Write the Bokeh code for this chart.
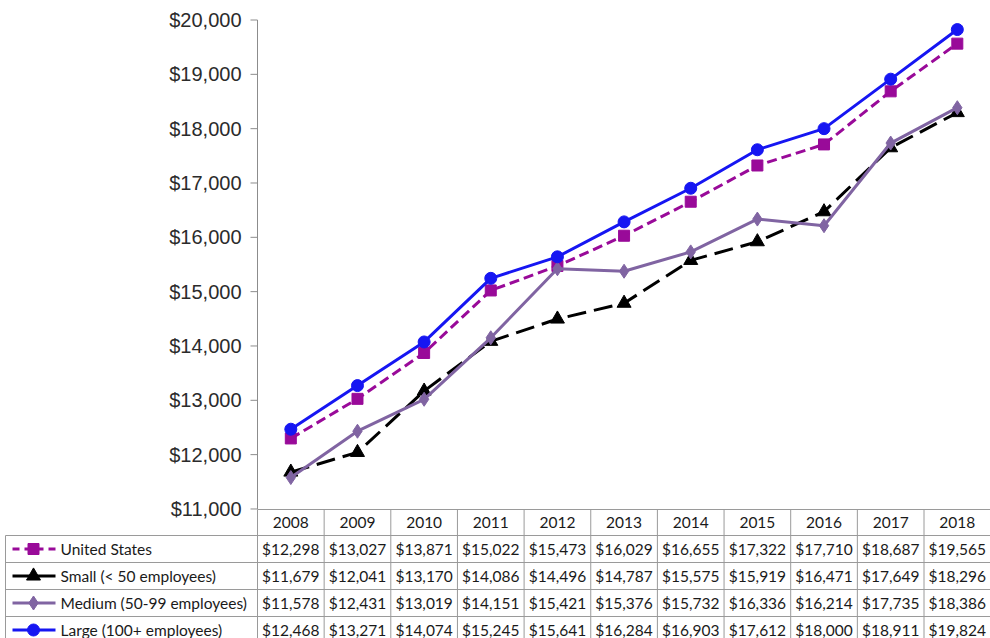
from bokeh.plotting import figure
from bokeh.models import Range1d, ColumnDataSource
from bokeh.core.properties import value
from bokeh.embed import file_html
from bokeh.resources import INLINE

# ---------------- data ----------------
years = [2008, 2009, 2010, 2011, 2012, 2013, 2014, 2015, 2016, 2017, 2018]
united_states = [12298, 13027, 13871, 15022, 15473, 16029, 16655, 17322, 17710, 18687, 19565]
small = [11679, 12041, 13170, 14086, 14496, 14787, 15575, 15919, 16471, 17649, 18296]
medium = [11578, 12431, 13019, 14151, 15421, 15376, 15732, 16336, 16214, 17735, 18386]
large = [12468, 13271, 14074, 15245, 15641, 16284, 16903, 17612, 18000, 18911, 19824]
series_names = ["United States", "Small (< 50 employees)", "Medium (50-99 employees)", "Large (100+ employees)"]
y_ticks = [11000, 12000, 13000, 14000, 15000, 16000, 17000, 18000, 19000, 20000]
y_tick_labels = ["$11,000", "$12,000", "$13,000", "$14,000", "$15,000", "$16,000",
                 "$17,000", "$18,000", "$19,000", "$20,000"]

# ---------------- layout constants (pixels) ----------------
W, H = 990, 638
AX_X = 257.0          # y-axis line / first table column edge
COL_W = 66.65         # width of a year column
Y_TOP_PX = 19.5       # pixel of top tick
PX_PER_K = 54.33      # pixels per $1,000
HEADER_TOP = 509.0
ROW_LINES = [535.0, 562.0, 589.0, 616.0]
ROW_H = 27.0
TABLE_LEFT = 5.0

first_center = AX_X + COL_W / 2
x0 = years[0] - first_center / COL_W
x1 = years[0] + (W - first_center) / COL_W
top_val = y_ticks[-1]
y_end = top_val + Y_TOP_PX / PX_PER_K * 1000
y_start = top_val - (H - Y_TOP_PX) / PX_PER_K * 1000

p = figure(width=W, height=H, output_backend="svg", toolbar_location=None,
           x_range=Range1d(x0, x1), y_range=Range1d(y_start, y_end),
           x_axis_type=None, y_axis_type=None, min_border=0,
           outline_line_color=None)
p.xgrid.visible = False
p.ygrid.visible = False
p.extra_x_ranges = {"px": Range1d(0, W)}
p.extra_y_ranges = {"tbl": Range1d(H, 0)}

GRID_C = "#9a9a9a"
AXIS_C = "#8c8c8c"
US_C = "#990a99"
SMALL_C = "#000000"
MED_C = "#8064a2"
LARGE_C = "#1616f2"

# ---------------- y axis ----------------
p.segment(x0=[AX_X], y0=[y_ticks[0]], x1=[AX_X], y1=[y_ticks[-1]],
          x_range_name="px", line_color=AXIS_C, line_width=1)
p.segment(x0=[AX_X - 7] * len(y_ticks), y0=y_ticks, x1=[AX_X] * len(y_ticks), y1=y_ticks,
          x_range_name="px", line_color=AXIS_C, line_width=1)
p.text(x=[AX_X - 16] * len(y_ticks), y=y_ticks, text=y_tick_labels, x_range_name="px",
       text_align="right", text_baseline="middle", text_font=value("Liberation Sans"),
       text_font_size="20px", text_color="#2b2b2b")

# ---------------- table grid ----------------
col_edges = [AX_X + COL_W * k for k in range(len(years) + 1)]
# horizontal lines
p.segment(x0=[AX_X], y0=[HEADER_TOP], x1=[W], y1=[HEADER_TOP],
          x_range_name="px", y_range_name="tbl", line_color=GRID_C, line_width=1)
p.segment(x0=[TABLE_LEFT] * len(ROW_LINES), y0=ROW_LINES, x1=[W] * len(ROW_LINES), y1=ROW_LINES,
          x_range_name="px", y_range_name="tbl", line_color=GRID_C, line_width=1)
# vertical lines
p.segment(x0=col_edges[:-1], y0=[HEADER_TOP] * (len(col_edges) - 1),
          x1=col_edges[:-1], y1=[H + 5] * (len(col_edges) - 1),
          x_range_name="px", y_range_name="tbl", line_color=GRID_C, line_width=1)
p.segment(x0=[TABLE_LEFT], y0=[ROW_LINES[0]], x1=[TABLE_LEFT], y1=[H + 5],
          x_range_name="px", y_range_name="tbl", line_color=GRID_C, line_width=1)

TABLE_FONT = value("Lato")
TABLE_SIZE = "15.5px"
# header years
p.text(x=years, y=[(HEADER_TOP + ROW_LINES[0]) / 2] * len(years), text=[str(y) for y in years],
       y_range_name="tbl", text_align="center", text_baseline="middle",
       text_font=TABLE_FONT, text_font_size=TABLE_SIZE, text_color="#1a1a1a")

all_series = [united_states, small, medium, large]
row_centers = [r + ROW_H / 2 for r in ROW_LINES]
tx, ty, tt = [], [], []
for vals, rc in zip(all_series, row_centers):
    for yr, v in zip(years, vals):
        tx.append(yr)
        ty.append(rc)
        tt.append("${:,}".format(v))
p.text(x="x", y="y", text="t", source=ColumnDataSource(dict(x=tx, y=ty, t=tt)),
       y_range_name="tbl", text_align="center", text_baseline="middle",
       text_font=TABLE_FONT, text_font_size=TABLE_SIZE, text_color="#1a1a1a")

# legend labels in table
p.text(x=[60] * 4, y=row_centers, text=series_names, x_range_name="px", y_range_name="tbl",
       text_align="left", text_baseline="middle", text_font=TABLE_FONT,
       text_font_size=TABLE_SIZE, text_color="#1a1a1a")

styles = [
    dict(color=US_C, dash="10 5", legend_dash="7 5", marker="square", size=11),
    dict(color=SMALL_C, dash="19 8", legend_dash="solid", marker="triangle", size=14),
    dict(color=MED_C, dash="solid", legend_dash="solid", marker="diamond", size=14),
    dict(color=LARGE_C, dash="solid", legend_dash="solid", marker="circle", size=12),
]

# legend samples
for st, rc in zip(styles, row_centers):
    p.line(x=[12, 55], y=[rc, rc], x_range_name="px", y_range_name="tbl",
           line_color=st["color"], line_width=3, line_dash=st["legend_dash"])
    p.scatter(x=[33], y=[rc], x_range_name="px", y_range_name="tbl", marker=st["marker"],
              size=st["size"], fill_color=st["color"], line_color=st["color"])

# ---------------- series ----------------
for vals, st in zip(all_series, styles):
    p.line(x=years, y=vals, line_color=st["color"], line_width=3, line_dash=st["dash"])
    p.scatter(x=years, y=vals, marker=st["marker"], size=st["size"],
              fill_color=st["color"], line_color=st["color"])

open("out.html", "w").write(file_html(p, INLINE))
